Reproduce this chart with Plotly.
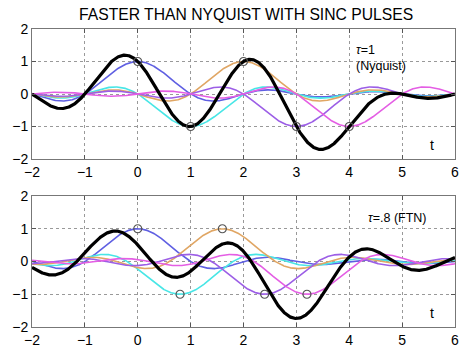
import numpy as np
import plotly.graph_objects as go

# ---- data ----
symbols = [1, -1, 1, -1, -1]
tau_top = 1.0
tau_bottom = 0.8
pulse_colors = ["#5f5fe2", "#48e6e6", "#e0a664", "#9c5ee6", "#e45ee4"]
x_ticks = [-2, -1, 0, 1, 2, 3, 4, 5, 6]
y_ticks = [-2, -1, 0, 1, 2]
t = np.linspace(-2, 6, 1601)

W, H = 462, 348
ML, MR, MT, MB = 32, 7, 29, 21
PW, PH = W - ML - MR, H - MT - MB


def px(x):
    return (x - ML) / PW


def py(y):
    return 1 - (y - MT) / PH


top_dom = [py(159), 1.0]
bot_dom = [0.0, py(196)]

fig = go.Figure()


def add_panel(tau, xa, ya):
    total = np.zeros_like(t)
    for k, a in enumerate(symbols):
        p = a * np.sinc(t - k * tau)
        total += p
        fig.add_trace(go.Scatter(x=t, y=p, mode="lines", xaxis=xa, yaxis=ya,
                                 line=dict(color=pulse_colors[k], width=1.6),
                                 showlegend=False, hoverinfo="skip"))
    fig.add_trace(go.Scatter(x=t, y=total, mode="lines", xaxis=xa, yaxis=ya,
                             line=dict(color="black", width=3.2),
                             showlegend=False, hoverinfo="skip"))
    fig.add_trace(go.Scatter(x=[k * tau for k in range(len(symbols))], y=symbols,
                             mode="markers", xaxis=xa, yaxis=ya,
                             marker=dict(symbol="circle-open", size=8,
                                         color="#555555", line=dict(width=1.2)),
                             showlegend=False, hoverinfo="skip"))


add_panel(tau_top, "x", "y")
add_panel(tau_bottom, "x2", "y2")

axis_common = dict(showline=True, linecolor="#777777", linewidth=1, mirror="allticks",
                   ticks="inside", ticklen=4, tickcolor="#555555",
                   showgrid=True, gridcolor="#999999", griddash="dot", gridwidth=1,
                   zeroline=False,
                   tickfont=dict(family="Liberation Sans", size=14, color="black"))

fig.update_layout(
    width=W, height=H, margin=dict(l=ML, r=MR, t=MT, b=MB, autoexpand=False),
    plot_bgcolor="white", paper_bgcolor="white",
    xaxis=dict(domain=[0, 1], anchor="y", range=[-2.0001, 6.0001], tickvals=x_ticks, **axis_common),
    yaxis=dict(domain=top_dom, anchor="x", range=[-2.0001, 2.0001], tickvals=y_ticks, **axis_common),
    xaxis2=dict(domain=[0, 1], anchor="y2", range=[-2.0001, 6.0001], tickvals=x_ticks, **axis_common),
    yaxis2=dict(domain=bot_dom, anchor="x2", range=[-2.0001, 2.0001], tickvals=y_ticks, **axis_common),
    annotations=[
        dict(text="FASTER THAN NYQUIST WITH SINC PULSES", x=px(246), y=py(15),
             xref="paper", yref="paper", showarrow=False, xanchor="center", yanchor="middle",
             font=dict(family="Liberation Sans", size=15.7, color="black")),
        dict(text="<i>τ</i>=1<br>(Nyquist)", x=px(354), y=py(58), xref="paper", yref="paper",
             showarrow=False, xanchor="left", yanchor="middle", align="left",
             font=dict(family="Liberation Sans", size=12.5, color="black")),
        dict(text="<i>τ</i>=.8 (FTN)", x=px(366), y=py(218), xref="paper", yref="paper",
             showarrow=False, xanchor="left", yanchor="middle", align="left",
             font=dict(family="Liberation Sans", size=12.5, color="black")),
        dict(text="t", x=px(432), y=py(145), xref="paper", yref="paper",
             showarrow=False, xanchor="center", yanchor="middle",
             font=dict(family="Liberation Sans", size=14, color="black")),
        dict(text="t", x=px(432), y=py(313), xref="paper", yref="paper",
             showarrow=False, xanchor="center", yanchor="middle",
             font=dict(family="Liberation Sans", size=14, color="black")),
    ],
)

fig.write_html("out.html", config={"displayModeBar": False},
               post_script="document.body.style.margin='0px';document.body.style.overflow='hidden';")
